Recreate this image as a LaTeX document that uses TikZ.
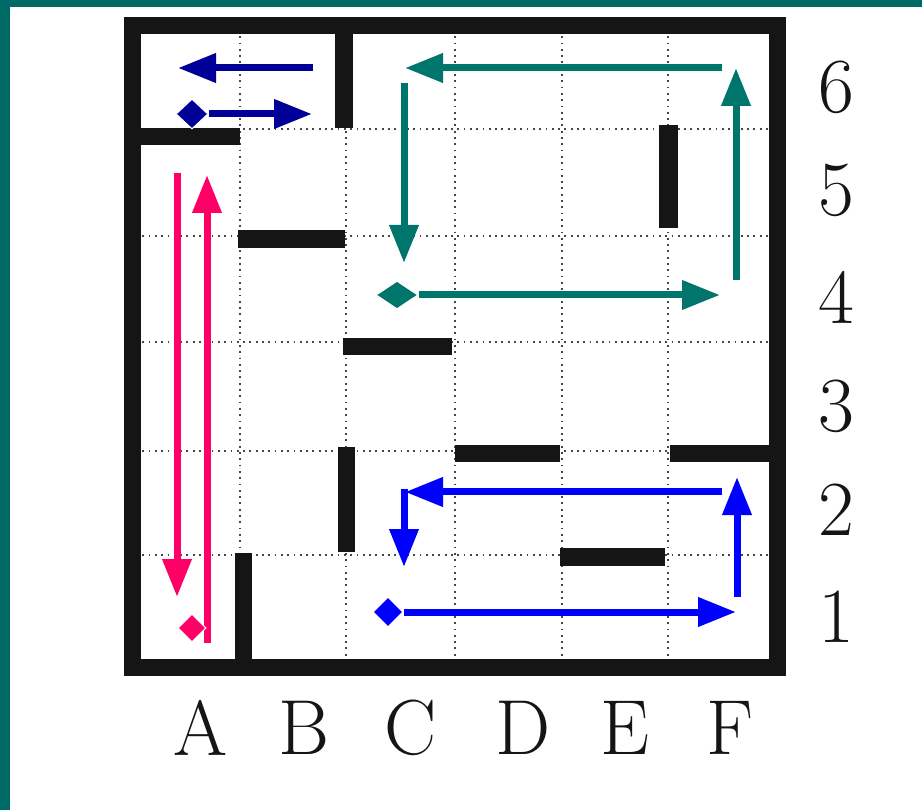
\documentclass[tikz,border=0pt]{standalone}
\usetikzlibrary{arrows.meta,shapes.geometric}
\definecolor{frameteal}{HTML}{006B66}
\definecolor{arrteal}{HTML}{00756C}
\definecolor{navyc}{HTML}{000099}
\definecolor{pbluec}{HTML}{0000FF}
\definecolor{pinkc}{HTML}{FF0066}
\definecolor{ink}{HTML}{151515}
\begin{document}
\begin{tikzpicture}[x=1pt,y=-1pt,
  wall/.style={fill=ink},
  gridline/.style={draw=gray!55!black, line width=1.8pt, dash pattern=on 1.8pt off 4.5pt},
  route/.style={line width=7pt, -{Triangle[length=38pt,width=28pt]}},
  dmd/.style={shape=diamond, inner sep=0pt, minimum width=30pt, minimum height=30pt, draw=white, line width=1pt},
  lbl/.style={text=ink, inner sep=0pt, font=\fontsize{78}{78}\selectfont}]
\useasboundingbox (0,0) rectangle (922,810);
\fill[white] (0,0) rectangle (922,810);
\fill[frameteal] (0,0) rectangle (10,810);
\fill[frameteal] (0,0) rectangle (922,7);
% dotted grid
\foreach \gx in {240,346,455,562,668} \draw[gridline] (\gx,30) -- (\gx,663);
\foreach \gy in {129,236,342,451,555} \draw[gridline] (136,\gy) -- (773,\gy);
% outer frame
\draw[ink, line width=17pt] (132,26) rectangle (777,667);
% inner walls
\fill[wall] (335,26) rectangle (353,128);
\fill[wall] (132,128) rectangle (240,145);
\fill[wall] (238,230) rectangle (345,248);
\fill[wall] (343,338) rectangle (452,355);
\fill[wall] (659,125) rectangle (678,228);
\fill[wall] (455,445) rectangle (560,462);
\fill[wall] (670,445) rectangle (777,462);
\fill[wall] (338,447) rectangle (355,552);
\fill[wall] (560,548) rectangle (665,566);
\fill[wall] (235,553) rectangle (252,667);
% navy route
\coordinate (n1s) at (313,68); \coordinate (n1e) at (178,68);
\draw[route, navyc] (n1s) -- (n1e);
\node[dmd, fill=navyc, minimum width=32pt] (nd) at (192,114) {};
\coordinate (n2e) at (312,114);
\draw[route, navyc] (nd.east) -- (n2e);
% teal route
\coordinate (t1s) at (722,68); \coordinate (t1e) at (405,68);
\coordinate (t2s) at (404,83); \coordinate (t2e) at (404,263);
\coordinate (t3e) at (720,295);
\coordinate (t4s) at (736,280); \coordinate (t4e) at (736,68);
\draw[route, arrteal] (t1s) -- (t1e);
\draw[route, arrteal] (t2s) -- (t2e);
\node[dmd, fill=arrteal, minimum width=42pt, minimum height=28pt] (td) at (397,295) {};
\draw[route, arrteal] (td.east) -- (t3e);
\draw[route, arrteal] (t4s) -- (t4e);
% pink route
\coordinate (p1s) at (177,173); \coordinate (p1e) at (177,597);
\coordinate (p2s) at (207,643); \coordinate (p2e) at (207,175);
\draw[route, pinkc] (p1s) -- (p1e);
\draw[route, pinkc] (p2s) -- (p2e);
\node[dmd, fill=pinkc, minimum width=28pt, minimum height=28pt] (pd) at (192,628) {};
% blue route
\coordinate (b1s) at (722,492); \coordinate (b1e) at (405,492);
\coordinate (b2s) at (404,489); \coordinate (b2e) at (404,567);
\coordinate (b3e) at (736,612);
\coordinate (b4s) at (737,597); \coordinate (b4e) at (737,477);
\draw[route, pbluec] (b1s) -- (b1e);
\draw[route, pbluec] (b2s) -- (b2e);
\node[dmd, fill=pbluec] (bd) at (388,612) {};
\draw[route, pbluec] (bd.east) -- (b3e);
\draw[route, pbluec] (b4s) -- (b4e);
% labels
\node[lbl] (cA) at (201,728) {A};
\node[lbl] (cB) at (304,728) {B};
\node[lbl] (cC) at (411,728) {C};
\node[lbl] (cD) at (523,728) {D};
\node[lbl] (cE) at (625,728) {E};
\node[lbl] (cF) at (730,728) {F};
\node[lbl] (r6) at (836,87) {6};
\node[lbl] (r5) at (836,190) {5};
\node[lbl] (r4) at (836,297) {4};
\node[lbl] (r3) at (836,406) {3};
\node[lbl] (r2) at (836,510) {2};
\node[lbl] (r1) at (836,617) {1};
\end{tikzpicture}
\end{document}
